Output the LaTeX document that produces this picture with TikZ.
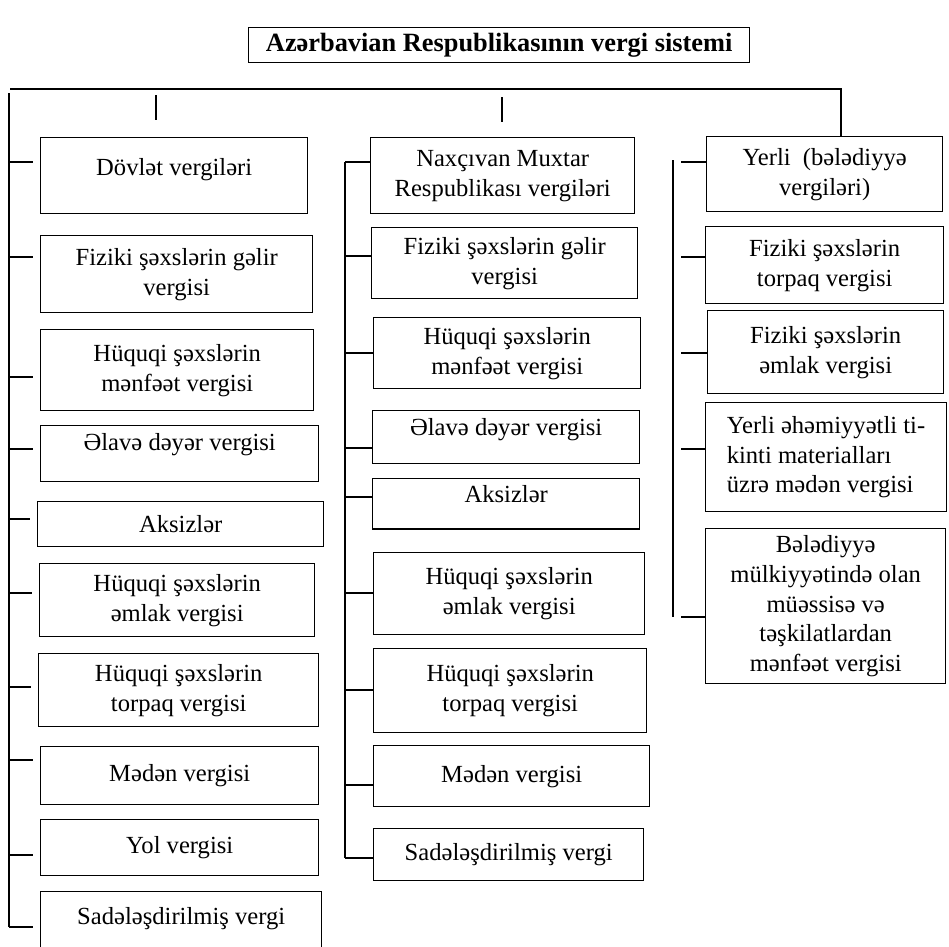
\documentclass[tikz,border=0pt]{standalone}
\usepackage{fontspec}
\setmainfont{Liberation Serif}
\tikzset{
  taxbox/.style={rectangle, draw=black, line width=0.8pt, align=center, anchor=north west, inner sep=1pt, font=\fontsize{14}{17}\selectfont},
  wh/.style 2 args={minimum width=#1*0.2mm, minimum height=#2*0.2mm},
  toptext/.style 2 args={inner ysep=0pt, text height=#1, text depth=#2},
  link/.style={line width=0.8pt, black},
}
\begin{document}
\begin{tikzpicture}[x=0.2mm,y=-0.2mm]
\useasboundingbox (0,0) rectangle (949,946);

\node[taxbox, wh={501}{35}, font=\fontsize{15}{17}\selectfont\bfseries] (title) at (248,27) {Azərbavian Respublikasının vergi sistemi};

% left column: Dövlət vergiləri
\node[taxbox, wh={267}{0}, toptext={21.5pt}{21.7pt}] (dovlet) at (40,137) {Dövlət vergiləri};
\node[taxbox, wh={272}{77}] (lgelir) at (40,235) {Fiziki şəxslərin gəlir\\vergisi};
\node[taxbox, wh={273}{81}] (lmenfeet) at (40,329) {Hüquqi şəxslərin\\mənfəət vergisi};
\node[taxbox, wh={278}{0}, toptext={14.2pt}{17.7pt}] (ledv) at (40,425) {Əlavə dəyər vergisi};
\node[taxbox, wh={286}{45}] (laksiz) at (37,501) {Aksizlər};
\node[taxbox, wh={275}{73}] (lemlak) at (39,563) {Hüquqi şəxslərin\\əmlak vergisi};
\node[taxbox, wh={280}{73}] (ltorpaq) at (38,653) {Hüquqi şəxslərin\\torpaq vergisi};
\node[taxbox, wh={278}{58}] (lmeden) at (40,746) {Mədən vergisi};
\node[taxbox, wh={278}{56}] (lyol) at (40,819) {Yol vergisi};
\node[taxbox, wh={281}{0}, toptext={18.8pt}{21.2pt}] (lsade) at (40,891) {Sadələşdirilmiş vergi};

% middle column: Naxçıvan MR
\node[taxbox, wh={264}{76}] (nmr) at (370,137) {Naxçıvan Muxtar\\Respublikası vergiləri};
\node[taxbox, wh={266}{71}] (ngelir) at (371,227) {Fiziki şəxslərin gəlir\\vergisi};
\node[taxbox, wh={267}{71}] (nmenfeet) at (373,317) {Hüquqi şəxslərin\\mənfəət vergisi};
\node[taxbox, wh={267}{0}, toptext={14.2pt}{16pt}] (nedv) at (372,410) {Əlavə dəyər vergisi};
\node[taxbox, wh={267}{0}, toptext={13.7pt}{14.8pt}] (naksiz) at (372,478) {Aksizlər};
\node[taxbox, wh={271}{82}] (nemlak) at (373,552) {Hüquqi şəxslərin\\əmlak vergisi};
\node[taxbox, wh={273}{84}] (ntorpaq) at (373,648) {Hüquqi şəxslərin\\torpaq vergisi};
\node[taxbox, wh={276}{61}] (nmeden) at (373,745) {Mədən vergisi};
\node[taxbox, wh={270}{52}] (nsade) at (373,828) {Sadələşdirilmiş vergi};

% right column: yerli vergilər
\node[taxbox, wh={236}{75}] (yerli) at (706,136) {Yerli \ (bələdiyyə\\vergiləri)};
\node[taxbox, wh={238}{77}] (yfiztorpaq) at (705,226) {Fiziki şəxslərin\\torpaq vergisi};
\node[taxbox, wh={236}{83}] (yfizemlak) at (707,310) {Fiziki şəxslərin\\əmlak vergisi};
\node[taxbox, wh={240}{109}, align=left, inner xsep=12pt] (ytikinti) at (705,402) {Yerli əhəmiyyətli ti-\\kinti materialları\\üzrə mədən vergisi};
\node[taxbox, wh={240}{155}] (ybeled) at (705,528) {Bələdiyyə\\mülkiyyətində olan\\müəssisə və\\təşkilatlardan\\mənfəət vergisi};

% trunk lines
\coordinate (hl) at (10,89);
\coordinate (hr) at (841,89);
\coordinate (lspine) at (9,93);
\coordinate (nspine) at (345,162);
\coordinate (yspine) at (673,160);
\draw[link] (hl) -- (hr) -- (hr |- yerli.north);
\draw[link] (156,95) -- (156,120);
\draw[link] (502,97) -- (502,122);
\draw[link] (lspine) -- (lspine |- 0,927);
\draw[link] (nspine) -- (nspine |- 0,858);
\draw[link] (yspine) -- (yspine |- 0,617);

% branches
\foreach \n/\t in {dovlet/162, lgelir/257, lmenfeet/377, ledv/449, laksiz/519, lemlak/593, ltorpaq/687, lmeden/760, lyol/855, lsade/927}
  \draw[link] (lspine |- 0,\t) -- ([xshift=-1.4mm]\n.west |- 0,\t);
\foreach \n/\t in {nmr/162, ngelir/256, nmenfeet/353, nedv/448, naksiz/497, nemlak/593, ntorpaq/690, nmeden/785, nsade/858}
  \draw[link] (nspine |- 0,\t) -- (\n.west |- 0,\t);
\foreach \n/\t in {yerli/162, yfiztorpaq/257, yfizemlak/353, ytikinti/449, ybeled/617}
  \draw[link] ([xshift=1.6mm]yspine |- 0,\t) -- (\n.west |- 0,\t);
\end{tikzpicture}
\end{document}
